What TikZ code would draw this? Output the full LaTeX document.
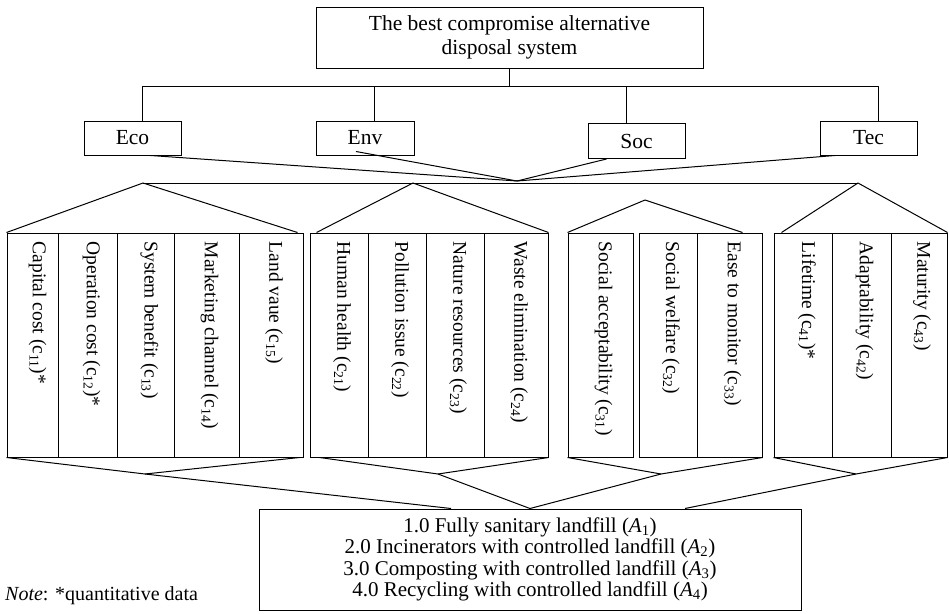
\documentclass[tikz,border=0pt]{standalone}
\usepackage{fontspec}
\setmainfont{Liberation Serif}
\usetikzlibrary{positioning}

\tikzset{
  box/.style={draw, line width=1pt, inner sep=0pt, font=\fontsize{21.5}{24}\selectfont},
  col/.style={draw, line width=1pt, minimum height=224pt, inner sep=0pt},
  coltext/.style={rotate=-90, anchor=west, inner sep=0pt, font=\fontsize{19.5}{22}\selectfont},
  link/.style={line width=1pt, line join=round},
}

\begin{document}
\begin{tikzpicture}[x=1pt, y=-1pt]
    \useasboundingbox (0,0) rectangle (949,613);

    \node[box, minimum width=387pt, minimum height=61pt, align=center] (goal) at (509.5,37.5) {The best compromise alternative\\disposal system};

    \node[box, minimum width=97pt, minimum height=34pt] (eco) at (132.5,138) {Eco};
    \node[box, minimum width=98pt, minimum height=34pt] (env) at (365,138)   {Env};
    \node[box, minimum width=97pt, minimum height=35pt] (soc) at (636.5,141) {Soc};
    \node[box, minimum width=97pt, minimum height=34pt] (tec) at (868.5,138) {Tec};

    \coordinate (busL) at (142,86);
    \coordinate (busR) at (878,86);
    \coordinate (envdrop) at ([xshift=9pt]env.north);
    \coordinate (socdrop) at ([xshift=-10.5pt]soc.north);
    \draw[link] (goal.south) -- (goal.south |- busL);
    \draw[link] (busL |- eco.north) -- (busL) -- (busR) -- (busR |- tec.north);
    \draw[link] (envdrop) -- (envdrop |- busL);
    \draw[link] (socdrop) -- (socdrop |- busL);

    \coordinate (hub) at (517,181);
    \draw[link] ([xshift=18pt]eco.south) -- (hub);
    \draw[link] ([xshift=-9pt,yshift=4pt]env.south) -- (hub);
    \draw[link] ([xshift=-30pt]soc.south) -- (hub);
    \draw[link] ([xshift=-33.5pt]tec.south) -- (hub);

    \coordinate (ecopeak) at (143,183);
    \coordinate (envpeak) at (413,183);
    \coordinate (socpeak) at (645,200);
    \coordinate (tecpeak) at (858,183);
    \draw[link] (ecopeak) -- (tecpeak);

    \node[col, minimum width=51pt] (c11) at (32.5,345)  {};
    \node[col, minimum width=59pt] (c12) at (87.5,345)  {};
    \node[col, minimum width=57pt] (c13) at (145.5,345) {};
    \node[col, minimum width=65pt] (c14) at (206.5,345) {};
    \node[col, minimum width=64pt] (c15) at (271,345)   {};

    \node[col, minimum width=58pt] (c21) at (339,345) {};
    \node[col, minimum width=58pt] (c22) at (397,345) {};
    \node[col, minimum width=58pt] (c23) at (455,345) {};
    \node[col, minimum width=64pt] (c24) at (516,345) {};

    \node[col, minimum width=65pt] (c31) at (600.5,345) {};
    \node[col, minimum width=58pt] (c32) at (668,345)   {};
    \node[col, minimum width=65pt] (c33) at (729.5,345) {};

    \node[col, minimum width=58pt] (c41) at (803,345)   {};
    \node[col, minimum width=59pt] (c42) at (861.5,345) {};
    \node[col, minimum width=56pt] (c43) at (919,345)   {};

    \node[coltext] (t11) at ([xshift=5pt,yshift=-9pt]c11.north) {Capital cost (c\textsubscript{11})*};
    \node[coltext] (t12) at ([xshift=4pt,yshift=-9pt]c12.north) {Operation cost (c\textsubscript{12})*};
    \node[coltext] (t13) at ([xshift=4pt,yshift=-9pt]c13.north) {System benefit (c\textsubscript{13})};
    \node[coltext] (t14) at ([xshift=3pt,yshift=-9pt]c14.north) {Marketing channel (c\textsubscript{14})};
    \node[coltext] (t15) at ([xshift=3pt,yshift=-9pt]c15.north) {Land vaue (c\textsubscript{15})};

    \node[coltext] (t21) at ([xshift=3pt,yshift=-9pt]c21.north) {Human health (c\textsubscript{21})};
    \node[coltext] (t22) at ([xshift=3pt,yshift=-9pt]c22.north) {Pollution issue (c\textsubscript{22})};
    \node[coltext] (t23) at ([xshift=3pt,yshift=-9pt]c23.north) {Nature resources (c\textsubscript{23})};
    \node[coltext] (t24) at ([xshift=3pt,yshift=-9pt]c24.north) {Waste elimination (c\textsubscript{24})};

    \node[coltext] (t31) at ([xshift=3pt,yshift=-9pt]c31.north) {Social acceptability (c\textsubscript{31})};
    \node[coltext] (t32) at ([xshift=3pt,yshift=-9pt]c32.north) {Social welfare (c\textsubscript{32})};
    \node[coltext] (t33) at ([xshift=3pt,yshift=-9pt]c33.north) {Ease to monitor (c\textsubscript{33})};

    \node[coltext] (t41) at ([xshift=4pt,yshift=-9pt]c41.north) {Lifetime (c\textsubscript{41})*};
    \node[coltext] (t42) at ([xshift=3pt,yshift=-9pt]c42.north) {Adaptability (c\textsubscript{42})};
    \node[coltext] (t43) at ([xshift=3pt,yshift=-9pt]c43.north) {Maturity (c\textsubscript{43})};

    \draw[link] (c11.north west) -- (ecopeak) -- ([xshift=-6pt]c15.north east);
    \draw[link] ([xshift=7pt]c21.north west) -- (envpeak) -- (c24.north east);
    \draw[link] (c31.north west) -- (socpeak) -- ([xshift=-20pt]c33.north east);
    \draw[link] ([xshift=8pt]c41.north west) -- (tecpeak) -- (c43.north east);

    \coordinate (ecofoot) at (145,474);
    \coordinate (envfoot) at (438,474);
    \coordinate (socfoot) at (661,474);
    \coordinate (tecfoot) at (856,474);
    \draw[link] (c11.south west) -- (ecofoot) -- ([xshift=-4pt]c15.south east);
    \draw[link] ([xshift=10pt]c21.south west) -- (envfoot) -- (c24.south east);
    \draw[link] (c31.south west) -- (socfoot) -- (c33.south east);
    \draw[link] (c41.south west) -- (tecfoot) -- (c43.south east);

    \node[box, minimum width=542pt, minimum height=101pt, align=center, font=\fontsize{21}{21.5}\selectfont] (alt) at (530,559.5)
      {1.0 Fully sanitary landfill (\textit{A}\textsubscript{1})\\
       2.0 Incinerators with controlled landfill (\textit{A}\textsubscript{2})\\
       3.0 Composting with controlled landfill (\textit{A}\textsubscript{3})\\
       4.0 Recycling with controlled landfill (\textit{A}\textsubscript{4})};

    \draw[link] (ecofoot) -- ([xshift=-79pt]alt.north);
    \draw[link] (envfoot) -- (alt.north) -- (socfoot);
    \draw[link] (tecfoot) -- ([xshift=155pt]alt.north);

    \node[anchor=base west, inner sep=0pt, font=\fontsize{20}{24}\selectfont] (note) at (5,600) {\textit{Note}: *quantitative data};
\end{tikzpicture}
\end{document}
